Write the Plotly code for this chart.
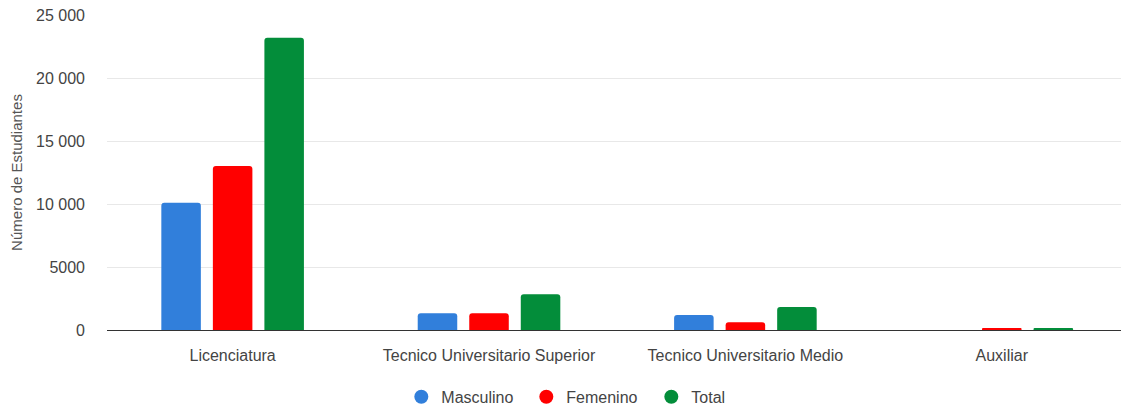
import plotly.graph_objects as go

categories = ["Licenciatura", "Tecnico Universitario Superior", "Tecnico Universitario Medio", "Auxiliar"]
masculino = [10100, 1320, 1190, 0]
femenino = [13020, 1320, 610, 120]
total = [23200, 2830, 1830, 120]
series_names = ["Masculino", "Femenino", "Total"]
series_colors = ["#317fdb", "#ff0000", "#038d3a"]
y_tickvals = [0, 5000, 10000, 15000, 20000, 25000]
y_ticktext = ["0", "5000", "10 000", "15 000", "20 000", "25 000"]

font = "Liberation Sans, Arial, sans-serif"
fig = go.Figure()
for name, vals, col in zip(series_names, [masculino, femenino, total], series_colors):
    fig.add_trace(go.Bar(x=categories, y=vals, name=name, marker_color=col,
                         marker_line_width=0, showlegend=False))
for name, col in zip(series_names, series_colors):
    fig.add_trace(go.Scatter(x=[None], y=[None], mode="markers", name=name,
                             marker=dict(color=col, size=14, symbol="circle")))

fig.update_layout(
    width=1121, height=410,
    margin=dict(l=107, r=0, t=15, b=80, autoexpand=False),
    paper_bgcolor="white", plot_bgcolor="white",
    font=dict(family=font, size=16, color="#444"),
    barmode="group", bargap=0.397, bargroupgap=0.233, barcornerradius=3,
    showlegend=True,
    legend=dict(orientation="h", xref="container", yref="container",
                x=0.358, xanchor="left", y=0.032, yanchor="middle",
                entrywidth=80, entrywidthmode="pixels",
                font=dict(size=16, color="#444"), itemclick=False),
)
fig.update_xaxes(range=[-0.49, 3.465], showgrid=False, ticks="", ticklabelstandoff=14,
                 tickfont=dict(size=16, color="#444"), showline=False, automargin=False)
fig.update_yaxes(range=[0, 25000], tickvals=y_tickvals, ticktext=y_ticktext,
                 showgrid=True, gridcolor="#e8e8e8", zeroline=True, zerolinecolor="#333",
                 zerolinewidth=1, ticks="", ticklabelstandoff=21, automargin=False,
                 tickfont=dict(size=16, color="#444"),
                 title=dict(text="Número de Estudiantes", font=dict(size=15, color="#555"), standoff=9))
fig.write_html("out.html", config={"displayModeBar": False},
               post_script="document.body.style.margin='0px';")
